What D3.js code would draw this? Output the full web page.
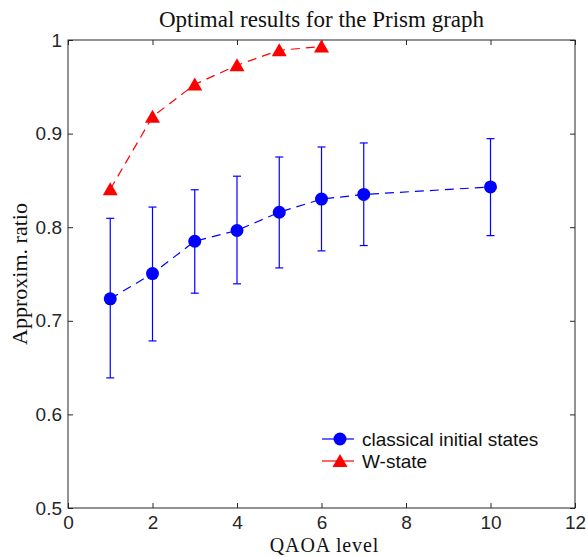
<!DOCTYPE html>
<html><head><meta charset="utf-8">
<script src="https://cdn.jsdelivr.net/npm/d3@7"></script>
<style>body{margin:0;background:#fff}</style>
</head><body>
<svg id="c" width="588" height="557"></svg>
<script>
const levels = [1, 2, 3, 4, 5, 6, 7, 10];
const classicalMean = [0.7235, 0.7505, 0.785, 0.7965, 0.816, 0.830, 0.835, 0.843];
const classicalLow  = [0.639, 0.6785, 0.7295, 0.7395, 0.7565, 0.7747, 0.7804, 0.791];
const classicalHigh = [0.8095, 0.8215, 0.840, 0.8545, 0.875, 0.8857, 0.890, 0.8946];
const wLevels = [1, 2, 3, 4, 5, 6];
const wState = [0.8405, 0.918, 0.9525, 0.973, 0.989, 0.993];
const xTicks = [0, 2, 4, 6, 8, 10, 12];
const yTicks = [0.5, 0.6, 0.7, 0.8, 0.9, 1];
const seriesNames = ["classical initial states", "W-state"];

const svg = d3.select("#c");
const L = 68, R = 575, T = 40, B = 508;
const x = d3.scaleLinear().domain([0, 12]).range([L, R]);
const y = d3.scaleLinear().domain([0.5, 1]).range([B, T]);
const axisCol = "#262626";
const sans = "'Liberation Sans', Arial, sans-serif";
const serif = "'Liberation Serif', 'DejaVu Serif', serif";

// box
svg.append("rect").attr("x", L).attr("y", T).attr("width", R - L).attr("height", B - T)
  .attr("fill", "none").attr("stroke", axisCol).attr("stroke-width", 1);

function styleAxis(g) {
  g.select(".domain").remove();
  g.selectAll(".tick line").attr("stroke", axisCol);
  g.selectAll(".tick text").attr("fill", axisCol).style("font-family", sans).style("font-size", "19px");
}
svg.append("g").attr("transform", `translate(0,${B})`)
  .call(d3.axisBottom(x).tickValues(xTicks).tickFormat(d3.format("d")).tickSizeInner(-5).tickPadding(8))
  .call(styleAxis);
svg.append("g").attr("transform", `translate(0,${T})`)
  .call(d3.axisTop(x).tickValues(xTicks).tickFormat("").tickSizeInner(-5))
  .call(styleAxis);
svg.append("g").attr("transform", `translate(${L},0)`)
  .call(d3.axisLeft(y).tickValues(yTicks).tickFormat(d => d === 1 ? "1" : d3.format(".1f")(d)).tickSizeInner(-5).tickPadding(6))
  .call(styleAxis);
svg.append("g").attr("transform", `translate(${R},0)`)
  .call(d3.axisRight(y).tickValues(yTicks).tickFormat("").tickSizeInner(-5))
  .call(styleAxis);

// labels
svg.append("text").attr("x", (L + R) / 2).attr("y", 27).attr("text-anchor", "middle")
  .style("font-family", serif).style("font-size", "23px").attr("fill", "#111").text("Optimal results for the Prism graph");
svg.append("text").attr("x", (L + R) / 2 + 3).attr("y", 552).attr("text-anchor", "middle")
  .style("font-family", serif).style("font-size", "20px").style("letter-spacing", "0.9px").attr("fill", "#111").text("QAOA level");
svg.append("text").attr("transform", `translate(27,${(T + B) / 2}) rotate(-90)`).attr("text-anchor", "middle")
  .style("font-family", serif).style("font-size", "22px").attr("fill", "#111").text("Approxim. ratio");

const blue = "#0000ff", red = "#ff0000";
const dash = "9,6";

// classical series
const cData = levels.map((l, i) => ({ l, m: classicalMean[i], lo: classicalLow[i], hi: classicalHigh[i] }));
const eb = svg.append("g").attr("stroke", blue).attr("stroke-width", 1.2);
cData.forEach(d => {
  eb.append("line").attr("x1", x(d.l)).attr("x2", x(d.l)).attr("y1", y(d.lo)).attr("y2", y(d.hi));
  eb.append("line").attr("x1", x(d.l) - 4).attr("x2", x(d.l) + 4).attr("y1", y(d.lo)).attr("y2", y(d.lo));
  eb.append("line").attr("x1", x(d.l) - 4).attr("x2", x(d.l) + 4).attr("y1", y(d.hi)).attr("y2", y(d.hi));
});
svg.append("path").datum(cData).attr("fill", "none").attr("stroke", blue).attr("stroke-width", 1.2)
  .attr("stroke-dasharray", dash).attr("d", d3.line().x(d => x(d.l)).y(d => y(d.m)));
svg.append("g").selectAll("circle").data(cData).join("circle")
  .attr("cx", d => x(d.l)).attr("cy", d => y(d.m)).attr("r", 6.5).attr("fill", blue);

// W-state series
const wData = wLevels.map((l, i) => ({ l, v: wState[i] }));
svg.append("path").datum(wData).attr("fill", "none").attr("stroke", red).attr("stroke-width", 1.2)
  .attr("stroke-dasharray", dash).attr("d", d3.line().x(d => x(d.l)).y(d => y(d.v)));
const tri = (cx, cy) => `M${cx},${cy - 7}L${cx + 7.5},${cy + 6}L${cx - 7.5},${cy + 6}Z`;
svg.append("g").selectAll("path").data(wData).join("path")
  .attr("d", d => tri(x(d.l), y(d.v))).attr("fill", red);

// legend
const lg = svg.append("g");
const legY = [439, 461];
lg.append("line").attr("x1", 322).attr("x2", 354).attr("y1", legY[0]).attr("y2", legY[0]).attr("stroke", blue).attr("stroke-width", 1.2);
lg.append("circle").attr("cx", 340).attr("cy", legY[0]).attr("r", 6.5).attr("fill", blue);
lg.append("line").attr("x1", 322).attr("x2", 354).attr("y1", legY[1]).attr("y2", legY[1]).attr("stroke", red).attr("stroke-width", 1.2);
lg.append("path").attr("d", tri(340, legY[1])).attr("fill", red);
seriesNames.forEach((n, i) => {
  lg.append("text").attr("x", 362).attr("y", legY[i]).attr("dy", "0.35em")
    .style("font-family", sans).style("font-size", "19px").attr("fill", "#111").text(n);
});
</script>
</body></html>
